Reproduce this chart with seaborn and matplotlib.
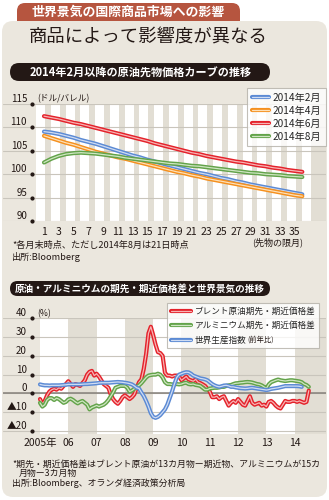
import numpy as np
import pandas as pd
import matplotlib
matplotlib.use("Agg")
import matplotlib.pyplot as plt
import matplotlib.patheffects as pe
from matplotlib.patches import FancyBboxPatch
from matplotlib.transforms import IdentityTransform
import seaborn as sns

# ---------------- data: chart 1 (oil futures curves, USD/bbl) ----------------
months = list(range(1, 37))
curve_labels = ["2014年2月", "2014年4月", "2014年6月", "2014年8月"]
feb = [109.1, 108.9, 108.6, 108.2, 107.8, 107.3, 106.9, 106.5, 106.0, 105.5, 105.0, 104.5,
       104.0, 103.6, 103.1, 102.7, 102.3, 101.9, 101.5, 101.1, 100.7, 100.3, 100.0, 99.6,
       99.2, 98.9, 98.5, 98.2, 97.8, 97.5, 97.2, 96.9, 96.6, 96.3, 96.0, 95.7]
apr = [108.2, 107.7, 107.2, 106.7, 106.3, 105.8, 105.3, 104.8, 104.4, 104.0, 103.6, 103.3,
       102.9, 102.5, 102.1, 101.7, 101.3, 100.9, 100.5, 100.2, 99.8, 99.5, 99.1, 98.8,
       98.5, 98.2, 97.9, 97.6, 97.3, 97.0, 96.7, 96.4, 96.1, 95.8, 95.5, 95.3]
jun = [112.4, 112.1, 111.8, 111.4, 111.0, 110.7, 110.3, 109.9, 109.5, 109.1, 108.7, 108.3,
       107.9, 107.5, 107.1, 106.6, 106.2, 105.8, 105.4, 105.0, 104.6, 104.3, 103.9, 103.6,
       103.3, 103.0, 102.7, 102.5, 102.2, 101.9, 101.7, 101.4, 101.2, 100.9, 100.7, 100.5]
aug = [102.5, 103.3, 103.9, 104.3, 104.5, 104.6, 104.5, 104.4, 104.2, 104.0, 103.8, 103.5,
       103.3, 103.1, 102.9, 102.7, 102.5, 102.3, 102.2, 102.0, 101.8, 101.7, 101.5, 101.3,
       101.1, 100.9, 100.7, 100.5, 100.3, 100.2, 100.0, 99.9, 99.8, 99.6, 99.5, 99.4]
y1_ticks = [90, 95, 100, 105, 110, 115]
x1_ticks = list(range(1, 36, 2))

# ---------------- data: chart 2 (spreads and world production, %) ----------------
# monthly, index 0 = Jan 2005
brent = [-3, -5.5, -4, -1, 1, 2, 2.5, 2, 3, 2.5, 4, 5,
         6.5, 5, 3.5, 5, 4.5, 4, 5.5, 7, 10, 11.5, 12, 9.5,
         10.5, 9, 7, 5, 4, 3, -0.5, -3, -4.5, -5.5, -4, -2,
         -1, -2, -3, -2, -0.5, 3, 6, 7.5, 13, 21, 32, 35.5,
         31, 26, 22, 21.5, 20, 11, 9.5, 9.5, 9, 9.5, 9.5, 9,
         7, 8, 9, 7.5, 7, 6.5, 7.5, 6, 5.5, 4.8, 4, 2.5,
         1, -2, -2, -1.5, -3, -2, -1.5, -4, -6.5, -5, -4, -5,
         -3, -4.5, -6, -6.5, -4, -1.5, -5, -6, -5.5, -5, -6.5, -6,
         -7, -4.5, -4, -5, -6.5, -7.5, -8, -6, -4, -4.5, -4.5, -4,
         -4, -4.5, -4, -4.5, -5, -4.5, 1.5]
alum = [-5, -7, -6, -3.5, -2.5, -2.5, -3.5, -2.5, -3, -4, -5, -4.5,
        -3.2, -2.8, -3.5, -4.5, -5.3, -4.5, -4, -5, -6, -8.5, -7.5, -7,
        -6.4, -7, -6.5, -6, -5, -3.5, -1.5, 0.5, 3, 3.5, 4, 4,
        4, 3, 1, 1.5, 2.5, 3.5, 4.3, 5.5, 7, 8.5, 9.5, 9.8,
        10, 10, 10.5, 10, 8.5, 6, 5, 5, 4.8, 4.8, 5, 4.8,
        5, 5.5, 5.7, 5, 4.8, 5, 4.5, 4.3, 4, 3, 2, 2,
        2.6, 2.8, 3, 3, 3.2, 3.5, 3.5, 4, 4.3, 4.5, 5, 5.4,
        5.5, 5.7, 5.8, 6, 6.1, 6, 5.8, 5.4, 5, 4.8, 4.3, 3.5,
        2.6, 4.8, 6, 6.5, 7, 7.4, 7, 6.8, 6.6, 6.8, 7, 7,
        6.8, 6.6, 6.4, 6, 5, 4.5, 3.5]
world = [4.8, 4.5, 4.3, 4.3, 4.2, 4.3, 4.3, 4.3, 4.3, 4.4, 4.5, 4.6,
         4.8, 4.8, 4.8, 4.8, 4.8, 4.8, 4.9, 5, 5, 5.1, 5.2, 5.3,
         5.4, 5.6, 5.7, 5.7, 5.7, 5.7, 5.8, 5.9, 6, 6.1, 6, 5.9,
         5.7, 5.5, 5.2, 4.8, 4, 3, 2.6, 0.5, -1.4, -4, -7, -10.5,
         -12.5, -13, -12.5, -11.5, -10, -8.5, -6, -2.5, 1, 5, 8.5, 10,
         10.5, 11, 11.3, 11.2, 10.5, 9.5, 9, 8.5, 8, 7.8, 7.5, 7,
         6, 5, 4.3, 3.8, 3.5, 3.8, 4.2, 4.3, 4, 3.5, 3.5, 3.2,
         3, 2.8, 2.7, 2.6, 2.7, 2.9, 3, 2.8, 2.6, 2.4, 2.2, 2,
         1.8, 2, 2.4, 2.6, 2.8, 3, 3.3, 3.6, 3.9, 3.9, 3.9, 3.9,
         3.9, 3.9, 3.8, 3.5]
series2_labels = ["ブレント原油期先・期近価格差", "アルミニウム期先・期近価格差", "世界生産指数"]
y2_ticks = [40, 30, 20, 10, 0, -10, -20]
y2_ticklabels = ["40", "30", "20", "10", "0", "▲10", "▲20"]
year_ticks = list(range(0, 109, 12))
year_labels = ["2005年", "06", "07", "08", "09", "10", "11", "12", "13", "14"]

# ---------------- style ----------------
sns.set_theme(style="white")
JP = ["Noto Sans CJK JP", "DejaVu Sans"]
NARROW = ["Liberation Sans Narrow", "Noto Sans CJK JP", "DejaVu Sans"]
plt.rcParams["font.family"] = JP
DARK = "#231815"
PANEL = "#ebe7de"
GRAYSTRIPE = "#e2ded4"
GRID = "#c9c5bc"

W, H = 329, 500
def fx(px):
    return px / W
def fy(py):
    return 1 - py / H

fig = plt.figure(figsize=(W / 100, H / 100), dpi=100)
fig.patch.set_facecolor("white")
ID = IdentityTransform()

# header tab + panel (display pixel coordinates, origin bottom-left)
tab = FancyBboxPatch((17, H - 30), 223, 27, boxstyle="round,pad=0,rounding_size=8",
                     transform=ID, facecolor="#b6553f", edgecolor="none", zorder=-20)
fig.add_artist(tab)
panel = FancyBboxPatch((2, H - 497), 325, 497 - 21, boxstyle="round,pad=0,rounding_size=11",
                       transform=ID, facecolor=PANEL, edgecolor="none", zorder=-19)
fig.add_artist(panel)
fig.text(fx(128), fy(12), "世界景気の国際商品市場への影響", color="white", fontsize=9.3,
         fontweight="bold", ha="center", va="center")
fig.text(fx(29), fy(37.5), "商品によって影響度が異なる", color=DARK, fontsize=13.2,
         ha="left", va="center")

def pill(x0, x1, y0, y1):
    h = y1 - y0
    p = FancyBboxPatch((x0, H - y1), x1 - x0, h,
                       boxstyle="round,pad=0,rounding_size=%f" % (h / 2),
                       transform=ID, facecolor=DARK, edgecolor="none", zorder=-5)
    fig.add_artist(p)

pill(10, 270, 63, 81)
fig.text(fx(141), fy(72.3), "2014年2月以降の原油先物価格カーブの推移", color="white",
         fontsize=8, fontweight="bold", ha="center", va="center")
pill(10, 270, 281, 296)
fig.text(fx(140), fy(288.7), "原油・アルミニウムの期先・期近価格差と世界景気の推移", color="white",
         fontsize=6.9, fontweight="bold", ha="center", va="center")


def tube(ax, x, y, color, light, label):
    sns.lineplot(x=x, y=y, ax=ax, color=light, linewidth=0.9, zorder=3,
                 path_effects=[pe.Stroke(linewidth=3.0, foreground=color), pe.Normal()],
                 label=label, legend=False)
    return ax.lines[-1]

# ---------------- chart 1 ----------------
ax1 = fig.add_axes([fx(3), fy(221), (326 - 3) / W, (221 - 104) / H])
ax1.set_facecolor("none")
px_m = 7.38
ax1.set_xlim(1 - 41 / px_m, 1 + 282 / px_m)
ax1.set_ylim(90, 115)
ax1.axvspan(-0.08, 1 + 282 / px_m, color=GRAYSTRIPE, lw=0, zorder=0.5)
for m in range(1, 38, 2):
    ax1.axvspan(m - 1.08, m + 0.14, color="white", lw=0, zorder=0.6)
ax1.set_axisbelow(False)
ax1.yaxis.grid(True, color=GRID, lw=0.8)
ax1.xaxis.grid(False)
for s in ax1.spines.values():
    s.set_visible(False)

c1 = [("#5b8ad4", "#cfdcf3"), ("#f5901e", "#fde0b8"), ("#e4222b", "#f7b4b4"), ("#63a34a", "#cfe6c2")]
h1 = []
for vals, (c, l), lab in zip([feb, apr, jun, aug], c1, curve_labels):
    h1.append(tube(ax1, months, vals, c, l, lab))

ax1.set_yticks(y1_ticks)
ax1.set_yticklabels([str(v) for v in y1_ticks])
ax1.set_xticks(x1_ticks)
ax1.set_xticklabels([str(v) for v in x1_ticks])
ax1.tick_params(axis="y", length=0, pad=-17.3, labelsize=7, labelcolor=DARK)
ax1.tick_params(axis="x", length=0, pad=4, labelsize=7.5, labelcolor=DARK)
for t in ax1.get_yticklabels():
    t.set_verticalalignment("bottom")
for t in ax1.get_xticklabels():
    t.set_family(NARROW)
ax1.plot([1 - 12.3 / px_m] * len(y1_ticks), y1_ticks, "o", ms=2, color=DARK,
         clip_on=False, zorder=5)
ax1.set_xlabel("")
ax1.set_ylabel("")

leg1 = ax1.legend(h1, curve_labels, loc="upper left", bbox_to_anchor=(fx(247), fy(88)),
                  bbox_transform=fig.transFigure, frameon=True, fancybox=False,
                  handlelength=1.75, handletextpad=0.35, labelspacing=0.3,
                  borderpad=0.45, borderaxespad=0, prop={"family": NARROW, "size": 7.3})
leg1.get_frame().set_facecolor("white")
leg1.get_frame().set_edgecolor("#b3afa7")
leg1.get_frame().set_linewidth(0.8)
leg1.set_zorder(10)

fig.text(fx(37), fy(99), "(ドル/バレル)", color=DARK, fontsize=6.2, ha="left", va="center")
fig.text(fx(278), fy(242), "(先物の限月)", color=DARK, fontsize=6.5, ha="center", va="center")
fig.text(fx(12), fy(245), "*各月末時点、ただし2014年8月は21日時点", color=DARK, fontsize=6.6,
         ha="left", va="center")
fig.text(fx(12), fy(257), "出所:Bloomberg", color=DARK, fontsize=6.6, ha="left", va="center")

# ---------------- chart 2 ----------------
ax2 = fig.add_axes([fx(3), fy(434), (326 - 3) / W, (434 - 318.3) / H])
ax2.set_facecolor("none")
px_i = 2.358
ax2.set_xlim((3 - 40) / px_i, (326 - 40) / px_i)
ax2.set_ylim(-21.6, 40)
ax2.axvspan(0, (326 - 40) / px_i, color=GRAYSTRIPE, lw=0, zorder=0.5)
for k in range(0, 10, 2):
    ax2.axvspan(12 * k, 12 * k + 12, color="white", lw=0, zorder=0.6)
ax2.set_axisbelow(False)
ax2.yaxis.grid(True, color=GRID, lw=0.8)
ax2.xaxis.grid(False)
ax2.axhline(0, color="#85807a", lw=1.1, zorder=2.7)
for s in ax2.spines.values():
    s.set_visible(False)

c2 = [("#e4222b", "#f7b4b4"), ("#63a34a", "#cfe6c2"), ("#5b8ad4", "#cfdcf3")]
h2 = []
for vals, (c, l), lab in zip([brent, alum, world], c2, series2_labels):
    h2.append(tube(ax2, list(range(len(vals))), vals, c, l, lab))

ax2.set_yticks(y2_ticks)
ax2.set_yticklabels(y2_ticklabels)
ax2.set_xticks(year_ticks)
ax2.set_xticklabels(year_labels)
ax2.tick_params(axis="y", length=0, pad=-17.3, labelsize=7, labelcolor=DARK)
ax2.tick_params(axis="x", length=0, pad=3, labelsize=7.5, labelcolor=DARK)
for t in ax2.get_yticklabels():
    t.set_verticalalignment("bottom")
for t in ax2.get_xticklabels():
    t.set_family(NARROW)
ax2.plot([(31.7 - 40) / px_i] * len(y2_ticks), y2_ticks, "o", ms=2, color=DARK,
         clip_on=False, zorder=5)
ax2.set_xlabel("")
ax2.set_ylabel("")

leg2 = ax2.legend(h2, series2_labels, loc="upper left", bbox_to_anchor=(fx(167), fy(303)),
                  bbox_transform=fig.transFigure, frameon=True, fancybox=False,
                  handlelength=2.3, handletextpad=0.45, labelspacing=0.62,
                  borderpad=0.45, borderaxespad=0, prop={"family": JP, "size": 6.2})
leg2.get_frame().set_facecolor("white")
leg2.get_frame().set_edgecolor("#b3afa7")
leg2.get_frame().set_linewidth(0.8)
leg2.set_zorder(10)

fig.text(fx(37), fy(314), "(%)", color=DARK, fontsize=6.2, ha="left", va="center")
fig.text(fx(12), fy(464), "*期先・期近価格差はブレント原油が13カ月物ー期近物、アルミニウムが15カ",
         color=DARK, fontsize=6.4, ha="left", va="center")
fig.text(fx(19), fy(473.5), "月物ー3カ月物", color=DARK, fontsize=6.4, ha="left", va="center")
fig.text(fx(12), fy(483), "出所:Bloomberg、オランダ経済政策分析局", color=DARK, fontsize=6.4,
         ha="left", va="center")

# smaller "(前年比)" right after the third legend label
fig.canvas.draw()
r = fig.canvas.get_renderer()
t3 = leg2.get_texts()[2]
bb = t3.get_window_extent(r)
fig.text(bb.x1 / W + 0.002, (bb.y0 + bb.y1) / 2 / H, "(前年比)", color=DARK, fontsize=5.2,
         ha="left", va="center", zorder=11)

fig.savefig("out.png", dpi=100, facecolor="white")
